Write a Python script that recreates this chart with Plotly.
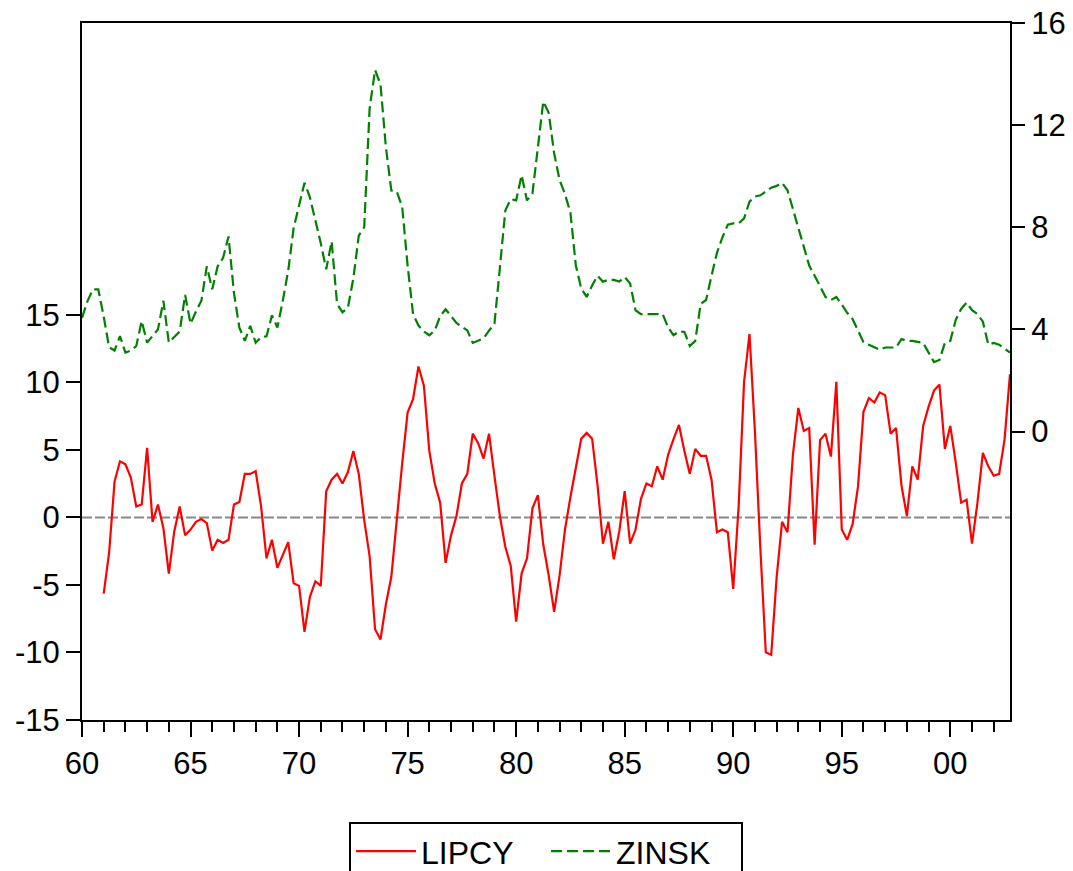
import plotly.graph_objects as go

# Quarterly data, ZINSK from 1960Q1, LIPCY from 1961Q1, both to 2002Q4
zinsk_start = 1960.0
lipcy_start = 1961.0

zinsk = [
    4.45, 5.1, 5.57, 5.57, 4.5, 3.3, 3.17, 3.74, 3.09, 3.17,
    3.35, 4.33, 3.48, 3.75, 4.0, 5.12, 3.48, 3.7, 3.92, 5.35,
    4.22, 4.7, 5.12, 6.47, 5.57, 6.47, 6.8, 7.64, 5.42, 4.07,
    3.55, 4.14, 3.48, 3.7, 3.73, 4.55, 4.07, 5.12, 6.3, 7.97,
    8.9, 9.74, 9.17, 8.3, 7.37, 6.35, 7.45, 5.0, 4.67, 4.85,
    6.0, 7.67, 8.0, 12.66, 14.16, 13.6, 11.13, 9.44, 9.4, 8.8,
    6.5, 4.6, 4.15, 3.92, 3.77, 3.96, 4.52, 4.79, 4.5, 4.25,
    4.1, 3.96, 3.47, 3.55, 3.65, 3.95, 4.22, 6.4, 8.65, 9.1,
    9.05, 10.04, 9.05, 9.32, 11.12, 12.93, 12.48, 10.9, 9.85, 9.3,
    8.57, 6.5, 5.6, 5.27, 5.72, 6.1, 5.87, 5.94, 5.94, 5.87,
    6.05, 5.8, 4.75, 4.6, 4.6, 4.6, 4.6, 4.6, 4.07, 3.77,
    3.92, 3.9, 3.35, 3.55, 5.0, 5.15, 6.1, 7.0, 7.6, 8.1,
    8.15, 8.15, 8.35, 9.0, 9.2, 9.25, 9.4, 9.55, 9.62, 9.74,
    9.45, 8.7, 8.0, 7.3, 6.5, 6.1, 5.7, 5.27, 5.15, 5.27,
    4.97, 4.65, 4.4, 3.95, 3.5, 3.4, 3.3, 3.2, 3.29, 3.29,
    3.29, 3.62, 3.55, 3.55, 3.5, 3.47, 3.09, 2.72, 2.8, 3.47,
    3.55, 4.37, 4.8, 5.05, 4.75, 4.6, 4.3, 3.4, 3.47, 3.4,
    3.25, 3.09,
]

lipcy = [
    -5.64, -2.6, 2.65, 4.15, 3.93, 2.94, 0.81, 0.95, 5.15, -0.33,
    0.95, -0.8, -4.16, -1.04, 0.81, -1.33, -0.9, -0.33, -0.13, -0.42,
    -2.46, -1.66, -1.89, -1.66, 0.95, 1.14, 3.22, 3.22, 3.42, 0.81,
    -3.03, -1.66, -3.74, -2.8, -1.83, -4.87, -5.07, -8.48, -5.87, -4.73,
    -5.07, 1.94, 2.79, 3.22, 2.51, 3.36, 4.92, 3.22, -0.19, -2.89,
    -8.28, -9.04, -6.43, -4.4, 0.0, 4.0, 7.76, 8.75, 11.17, 9.75,
    4.92, 2.51, 1.09, -3.37, -1.33, 0.1, 2.51, 3.22, 6.2, 5.49,
    4.35, 6.2, 3.08, 0.1, -2.17, -3.6, -7.72, -4.16, -3.03, 0.67,
    1.65, -2.03, -4.3, -7.0, -4.3, -0.9, 1.51, 3.78, 5.83, 6.25,
    5.83, 2.37, -1.95, -0.33, -3.1, -1.04, 1.94, -1.95, -0.9, 1.37,
    2.51, 2.31, 3.78, 2.79, 4.64, 5.8, 6.85, 4.92, 3.22, 5.07,
    4.56, 4.56, 2.79, -1.1, -0.9, -1.1, -5.3, 0.81, 10.03, 13.58,
    6.34, -2.31, -9.98, -10.18, -4.44, -0.33, -1.1, 4.64, 8.1, 6.4,
    6.62, -2.03, 5.72, 6.2, 4.5, 10.03, -0.9, -1.66, -0.5, 2.31,
    7.82, 8.84, 8.5, 9.25, 9.05, 6.2, 6.62, 2.37, 0.1, 3.78,
    2.79, 6.77, 8.2, 9.39, 9.83, 5.07, 6.77, 4.07, 1.09, 1.3,
    -1.95, 1.09, 4.78, 3.78, 3.08, 3.22, 5.77, 10.6,
]

major_years = [1960, 1965, 1970, 1975, 1980, 1985, 1990, 1995, 2000]
major_labels = ["60", "65", "70", "75", "80", "85", "90", "95", "00"]
minor_years = list(range(1960, 2003))
left_ticks = [-15, -10, -5, 0, 5, 10, 15]
left_labels = ["-15", "-10", "-5", "0", "5", "10", "15"]
right_ticks = [0, 4, 8, 12, 16]
right_labels = ["0", "4", "8", "12", "16"]

x_z = [zinsk_start + k / 4 for k in range(len(zinsk))]
x_l = [lipcy_start + k / 4 for k in range(len(lipcy))]

FONT = "Liberation Sans, Arial, sans-serif"

fig = go.Figure()
fig.add_trace(go.Scatter(
    x=x_l, y=lipcy, name="LIPCY", mode="lines",
    line=dict(color="#FF0000", width=2.2), yaxis="y",
))
fig.add_trace(go.Scatter(
    x=x_z, y=zinsk, name="ZINSK", mode="lines",
    line=dict(color="#008000", width=2.2, dash="11px,5px"), yaxis="y2",
))

fig.add_shape(type="line", xref="paper", x0=0, x1=1, yref="y", y0=0, y1=0,
              line=dict(color="#888888", width=2, dash="10px,3px"), layer="below")

fig.update_layout(
    width=1073, height=871,
    margin=dict(l=82, r=63, t=23, b=151, autoexpand=False),
    paper_bgcolor="white", plot_bgcolor="white",
    font=dict(family=FONT, size=31, color="black"),
    showlegend=True,
    legend=dict(
        orientation="h", x=0.5, xanchor="center", y=-0.146, yanchor="top",
        bordercolor="black", borderwidth=2, font=dict(size=32),
        itemwidth=60, entrywidth=120, entrywidthmode="pixels",
    ),
    xaxis=dict(
        range=[1960, 2002.75], tickmode="array", tickvals=major_years,
        ticktext=major_labels, ticks="outside", ticklen=15, tickwidth=2,
        tickcolor="black", showline=True, linecolor="black", linewidth=2,
        mirror=True, showgrid=False, zeroline=False,
        minor=dict(tickmode="array", tickvals=minor_years, ticks="outside",
                   ticklen=10, tickwidth=2, tickcolor="black", showgrid=False),
    ),
    yaxis=dict(
        range=[-15, 36.6], tickmode="array", tickvals=left_ticks,
        ticktext=left_labels,
        ticks="outside", ticklen=14, tickwidth=2, tickcolor="black",
        showline=True, linecolor="black", linewidth=2, showgrid=False,
        zeroline=False,
    ),
    yaxis2=dict(
        range=[-11.3, 16.0], tickmode="array", tickvals=right_ticks,
        ticktext=right_labels,
        overlaying="y", side="right", ticks="outside", ticklen=13,
        tickwidth=2, tickcolor="black", showline=True, linecolor="black",
        linewidth=2, showgrid=False, zeroline=False,
    ),
)

fig.write_html("out.html")
